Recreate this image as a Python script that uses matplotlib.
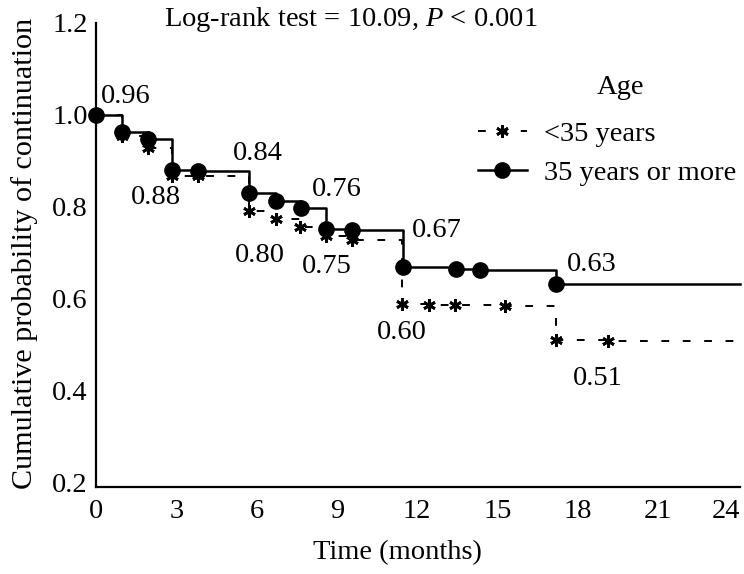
import matplotlib
matplotlib.use("Agg")
import matplotlib.pyplot as plt
from matplotlib.lines import Line2D
import matplotlib.transforms as mtransforms

plt.rcParams['font.family'] = ['Liberation Serif', 'DejaVu Serif']
plt.rcParams['mathtext.fontset'] = 'custom'
plt.rcParams['mathtext.rm'] = 'Liberation Serif'
plt.rcParams['mathtext.it'] = 'Liberation Serif:italic'

# ---- data (time in axis units) ----
t_old = [0, 0.97, 1.94, 2.84, 3.81, 5.72, 6.73, 7.66, 8.60, 9.57, 11.48, 13.46, 14.36, 17.20]
v_old = [1.0, 0.962, 0.947, 0.880, 0.878, 0.830, 0.812, 0.797, 0.752, 0.750, 0.668, 0.665, 0.663, 0.632]
t_old_end = 24.07

t_young = [0, 0.97, 1.94, 2.84, 3.81, 5.72, 6.73, 7.63, 8.60, 9.57, 11.44, 12.45, 13.42, 15.29, 17.20, 19.14]
v_young = [1.0, 0.955, 0.928, 0.867, 0.866, 0.790, 0.774, 0.757, 0.736, 0.727, 0.589, 0.587, 0.587, 0.583, 0.511, 0.507]
t_young_end = 23.9

x_ticks = [0, 3, 6, 9, 12, 15, 18, 21, 24]
y_ticks = [0.2, 0.4, 0.6, 0.8, 1.0, 1.2]

labels_text = ["0.96", "0.88", "0.84", "0.76", "0.80", "0.75", "0.67", "0.63", "0.60", "0.51"]
labels_t = [1.12, 2.24, 6.06, 8.99, 6.13, 8.62, 12.75, 18.54, 11.42, 18.77]
labels_v = [1.039, 0.820, 0.916, 0.837, 0.693, 0.670, 0.748, 0.674, 0.526, 0.426]

legend_title = "Age"
legend_labels = ["<35 years", "35 years or more"]
title_text = r"Log-rank test = 10.09, $\mathit{P}$ < 0.001"
xlabel = "Time (months)"
ylabel = "Cumulative probability of continuation"

W, H = 744, 574
fig = plt.figure(figsize=(W / 100, H / 100), dpi=100)
ax = fig.add_axes([96 / W, 1 - 487 / H, (740 - 96) / W, (487 - 23) / H])

FS = 20.5

# dashed (<35)
ax.step(t_young + [t_young_end], v_young + [v_young[-1]], where='post',
        color='black', lw=1.4, linestyle=(0, (4, 7)), zorder=2, clip_on=False)
ax.plot(t_young, v_young, linestyle='none', marker=(6, 2, 0), markersize=9,
        markeredgewidth=2.0, color='black', zorder=3, clip_on=False)

# solid (35+)
ax.step(t_old + [t_old_end], v_old + [v_old[-1]], where='post',
        color='black', lw=1.8, zorder=4, clip_on=False)
ax.plot(t_old, v_old, linestyle='none', marker='o', markersize=11,
        color='black', zorder=5, clip_on=False)

ax.set_xlim(0, 24.07)
ax.set_ylim(0.19, 1.2)
ax.set_xticks(x_ticks)
ax.set_yticks(y_ticks)
ax.set_xticklabels([str(x) for x in x_ticks], fontsize=FS)
ax.set_yticklabels([f"{y:.1f}" for y in y_ticks], fontsize=FS)
ax.tick_params(axis='x', length=0, pad=9)
ax.tick_params(axis='y', length=0, pad=6)
# keep the last x tick label inside the canvas
last = ax.get_xticklabels()[-1]
last.set_transform(last.get_transform() +
                   mtransforms.ScaledTranslation(-12 / 100, 0, fig.dpi_scale_trans))
for s in ['top', 'right']:
    ax.spines[s].set_visible(False)
for s in ['left', 'bottom']:
    ax.spines[s].set_linewidth(1.6)

for txt, tx, ty in zip(labels_text, labels_t, labels_v):
    ax.text(tx, ty, txt, fontsize=FS, ha='center', va='center')

fig.text(351 / W, 1 - 20 / H, title_text, fontsize=FS, ha='center', va='center')
fig.text(397 / W, 1 - 553 / H, xlabel, fontsize=FS, ha='center', va='center')
fig.text(25 / W, 1 - 253 / H, ylabel, fontsize=21.7, ha='center', va='center', rotation=90)

h1 = Line2D([], [], color='black', lw=1.4, linestyle=(0, (4, 7)), marker=(6, 2, 0),
            markersize=9, markeredgewidth=2.0)
h2 = Line2D([], [], color='black', lw=1.8, marker='o', markersize=11)
leg = ax.legend([h1, h2], legend_labels, fontsize=FS,
                frameon=False, loc='upper left',
                bbox_to_anchor=(464 / W, 1 - 107 / H), bbox_transform=fig.transFigure,
                handlelength=1.7, handletextpad=0.6, labelspacing=0.45, borderpad=0,
                numpoints=1)
fig.text(620 / W, 1 - 88 / H, legend_title, fontsize=FS, ha='center', va='center')

fig.savefig("out.png", dpi=100)
